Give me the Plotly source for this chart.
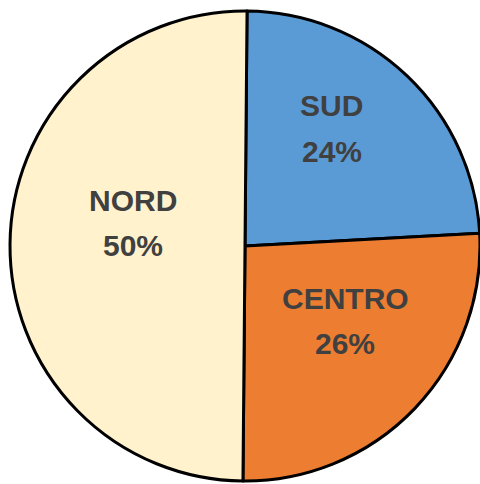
import plotly.graph_objects as go

labels = ["SUD", "CENTRO", "NORD"]
values = [24, 26, 50]
colors = ["#5B9BD5", "#ED7D31", "#FFF2CC"]

# label placement (paper coordinates) for each slice: (x, y of name line, y of percent line)
label_pos = [(0.685, 0.797, 0.700), (0.713, 0.388, 0.293), (0.262, 0.597, 0.502)]

fig = go.Figure(go.Pie(
    labels=labels,
    values=values,
    sort=False,
    direction="clockwise",
    rotation=0.5,
    marker=dict(colors=colors, line=dict(color="#000000", width=3)),
    textinfo="none",
    showlegend=False,
    hoverinfo="label+percent",
))

total = sum(values)
font = dict(family="Liberation Sans", size=30, color="#404040")
for lab, val, (px, py1, py2) in zip(labels, values, label_pos):
    pct = round(100 * val / total)
    fig.add_annotation(x=px, y=py1, xref="paper", yref="paper", text=f"<b>{lab}</b>",
                       showarrow=False, font=font, xanchor="center", yanchor="middle")
    fig.add_annotation(x=px, y=py2, xref="paper", yref="paper", text=f"<b>{pct}%</b>",
                       showarrow=False, font=font, xanchor="center", yanchor="middle")

fig.update_layout(
    width=480,
    height=484,
    margin=dict(l=10, r=0, t=10, b=2),
    paper_bgcolor="#FFFFFF",
    plot_bgcolor="#FFFFFF",
)

fig.write_html("out.html",
               config={"displayModeBar": False},
               post_script="document.body.style.margin='0';document.body.style.overflow='hidden';")
